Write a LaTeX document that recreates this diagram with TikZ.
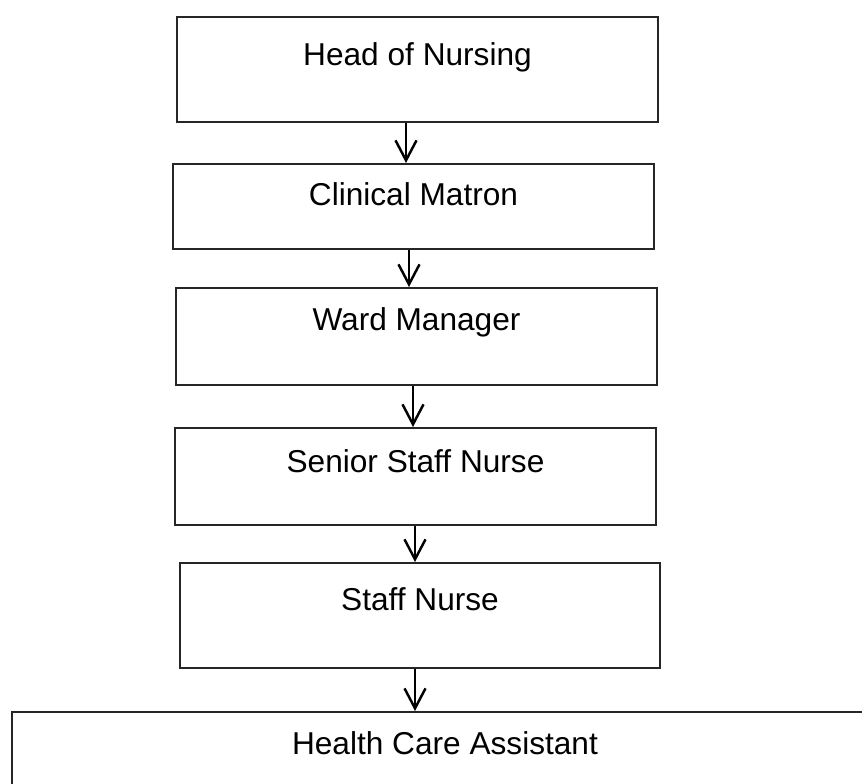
\documentclass[tikz,border=0pt]{standalone}
\usepackage{fontspec}
\setmainfont{Liberation Sans}
\usetikzlibrary{arrows.meta,positioning}
\tikzset{
  rankbox/.style={draw=black!85, line width=1.3pt, fill=white, rectangle,
    inner sep=0pt, anchor=north, align=center,
    font=\fontsize{18}{22}\selectfont},
  rankarr/.style={-{Straight Barb[length=4mm,width=4.2mm,line width=1.4pt]},
    line width=1.4pt, black},
}
\begin{document}
\begin{tikzpicture}[x=0.02cm,y=-0.02cm]
    \useasboundingbox (0,0) rectangle (862,784);
    % the chain of posts, top to bottom
    \node[rankbox, minimum width=9.62cm, text height=0.96cm, text depth=1.14cm]
      (head) at (417.5,16) {Head of Nursing};
    \node[rankbox, minimum width=9.62cm, text height=0.82cm, text depth=0.88cm]
      (matron) at (413.5,163) {Clinical Matron};
    \node[rankbox, minimum width=9.62cm, text height=0.84cm, text depth=1.10cm]
      (ward) at (416.5,287) {Ward Manager};
    \node[rankbox, minimum width=9.62cm, text height=0.88cm, text depth=1.06cm]
      (senior) at (415.5,427) {Senior Staff Nurse};
    \node[rankbox, minimum width=9.60cm, text height=0.94cm, text depth=1.16cm]
      (staff) at (420,562) {Staff Nurse};
    \node[rankbox, minimum width=17.32cm, text height=0.84cm, text depth=1.40cm]
      (hca) at (445,711) {Health Care Assistant};
    % downward arrows between the boxes
    \draw[rankarr] (head.south -| 406,0) -- (matron.north -| 406,0);
    \draw[rankarr] (matron.south -| 409,0) -- (ward.north -| 409,0);
    \draw[rankarr] (ward.south -| 413,0) -- (senior.north -| 413,0);
    \draw[rankarr] (senior.south -| 415,0) -- (staff.north -| 415,0);
    \draw[rankarr] (staff.south -| 415,0) -- (hca.north -| 415,0);
  \end{tikzpicture}
\end{document}
